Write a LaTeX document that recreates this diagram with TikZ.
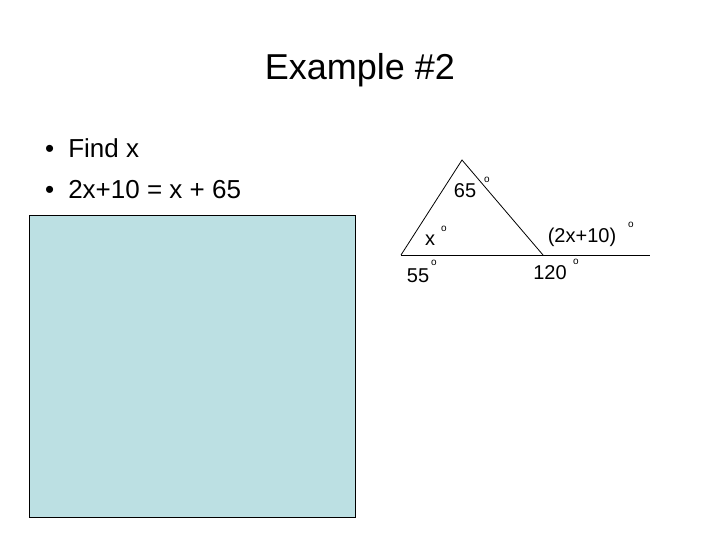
\documentclass[tikz,border=0pt]{standalone}
\usepackage{fontspec}
\setmainfont{Liberation Sans}
\begin{document}
\begin{tikzpicture}[x=1pt,y=-1pt,
  lbl/.style={font=\fontsize{20}{22}\selectfont,inner sep=0pt},
  deg/.style={font=\fontsize{10}{11}\selectfont,inner sep=0pt}]
\useasboundingbox (0,0) rectangle (720,540);
\node[inner sep=0pt,font=\fontsize{36}{40}\selectfont] (title) at (360,70) {Example \#2};
\node[anchor=west,inner sep=0pt,font=\fontsize{26}{30}\selectfont] (b1) at (45,148) {\textbullet\hspace{14pt}Find x};
\node[anchor=west,inner sep=0pt,font=\fontsize{26}{30}\selectfont] (b2) at (45,190) {\textbullet\hspace{14pt}2x+10 = x + 65};
\node[draw=black,fill={rgb,255:red,188;green,224;blue,227},minimum width=326pt,minimum height=302pt,anchor=north west,inner sep=0pt] (box) at (29,215) {};
\coordinate (A) at (462,160);
\coordinate (B) at (401,255);
\coordinate (C) at (543,255);
\coordinate (E) at (650,255);
\draw[line width=0.8pt] (B) -- (A) -- (C);
\draw[line width=0.8pt] (B) -- (E);
\node[lbl] (l65) at (465,191) {65};
\node[deg] (d65) at (487,180) {o};
\node[lbl] (lx) at (430,240) {x};
\node[deg] (dx) at (444,229) {o};
\node[lbl] (l55) at (418,276) {55};
\node[deg] (d55) at (434,263) {o};
\node[lbl] (l120) at (550,273) {120};
\node[deg] (d120) at (576,262) {o};
\node[lbl] (l2x) at (582,237) {(2x+10)};
\node[deg] (d2x) at (631,225) {o};
\end{tikzpicture}
\end{document}
